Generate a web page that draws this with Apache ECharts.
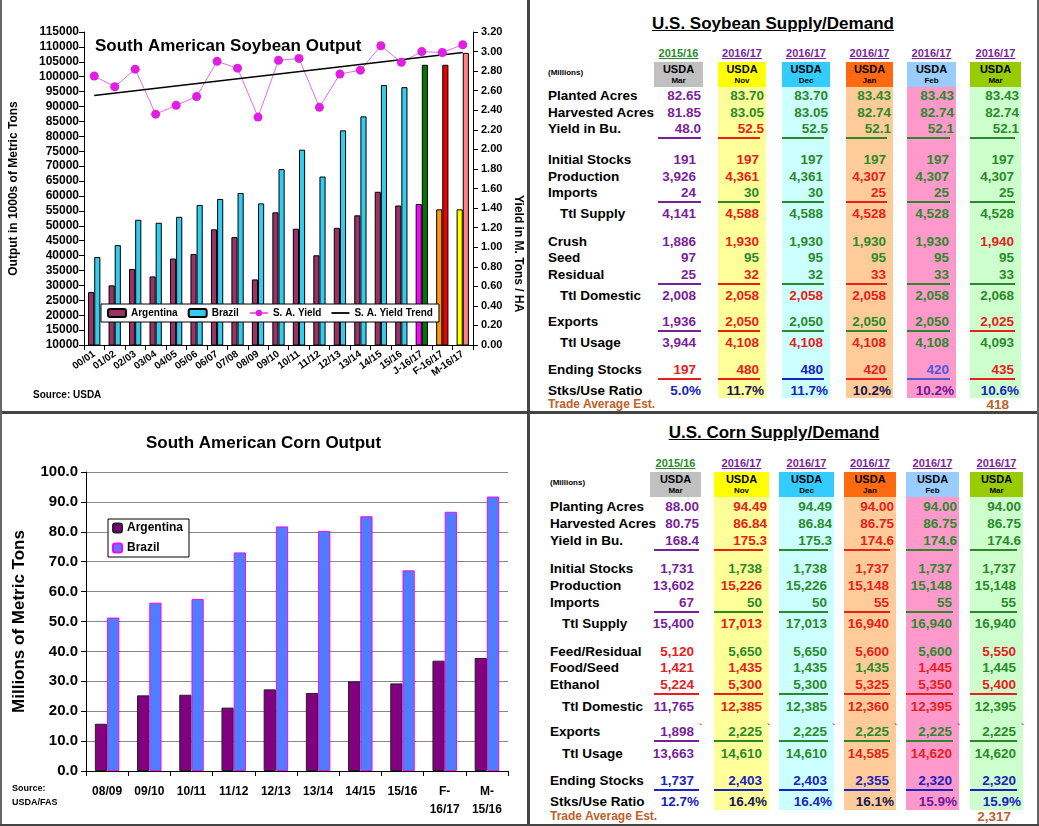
<!DOCTYPE html>
<html><head><meta charset="utf-8">
<script src="https://cdn.jsdelivr.net/npm/echarts@6/dist/echarts.min.js"></script>
<style>
body{margin:0;width:1039px;height:826px;position:relative;background:#fff;font-family:Arial,"Liberation Sans",sans-serif;overflow:hidden}
.abs{position:absolute}
.t{position:absolute;font-weight:bold;font-size:13.5px;white-space:nowrap;line-height:15px}
</style></head><body>
<div id="soy" class="abs" style="left:0;top:0;width:527px;height:411px"></div>
<div id="corn" class="abs" style="left:0;top:414px;width:527px;height:412px"></div>
<div id="tables"></div>
<div class="abs" style="left:527px;top:0;width:3px;height:826px;background:#444"></div>
<div class="abs" style="left:0;top:411px;width:1039px;height:3px;background:#444"></div>
<div class="abs" style="left:0;top:0;width:2px;height:826px;background:#666"></div>
<div class="abs" style="left:1037px;top:0;width:2px;height:826px;background:#666"></div>
<div class="abs" style="left:0;top:824px;width:1039px;height:2px;background:#444"></div>
<script>
// ---------- Soybean chart data ----------
const soyCats = ['00/01','01/02','02/03','03/04','04/05','05/06','06/07','07/08','08/09','09/10','10/11','11/12','12/13','13/14','14/15','15/16','J-16/17','F-16/17','M-16/17'];
const soyArg = [27800,30000,35500,33000,39000,40500,48800,46200,32000,54500,49000,40100,49300,53500,61400,56800,57300,55500,55500];
const soyBra = [39500,43500,52000,51000,53000,57000,59000,61000,57500,69000,75500,66500,82000,86700,97200,96500,104000,104000,108000];
const soyYield = [2.75,2.64,2.82,2.36,2.45,2.54,2.90,2.83,2.33,2.91,2.93,2.43,2.77,2.81,3.06,2.89,3.00,2.99,3.07];
const soyTrend = [2.55,null,null,null,null,null,null,null,null,null,null,null,null,null,null,null,null,null,2.99];
const argSpecial = {16:'#ff00ff',17:'#ff9900',18:'#ffff00'};
const braSpecial = {16:'#007700',17:'#ee0000',18:'#ff8080'};
// ---------- Corn chart data ----------
const cornCats = ['08/09','09/10','10/11','11/12','12/13','13/14','14/15','15/16','F-\n16/17','M-\n15/16'];
const cornArg = [15.8,25.3,25.5,21.2,27.3,26.1,30.0,29.3,36.9,37.8];
const cornBra = [51.3,56.3,57.5,73.1,81.8,80.3,85.2,67.1,86.7,91.8];

const F='Arial, Liberation Sans, sans-serif';
const soy = echarts.init(document.getElementById('soy'));
soy.setOption({
  animation:false,
  title:{text:'South American Soybean Output',left:90,top:33,textStyle:{fontSize:17,fontWeight:'bold',color:'#000',fontFamily:F}},
  graphic:[
    {type:'text',left:33,top:390,style:{text:'Source: USDA',font:'bold 10px Arial',fill:'#000'}},
    {type:'text',left:512,top:195,rotation:-Math.PI/2,style:{text:'Yield in M. Tons / HA',font:'bold 12px Arial',fill:'#000'}}
  ],
  legend:{left:101,top:304,itemGap:10,backgroundColor:'#fff',borderColor:'#000',borderWidth:1,padding:[4,6],itemWidth:18,itemHeight:8,
    textStyle:{fontSize:10,fontWeight:'bold',fontFamily:F,color:'#000'},
    data:[{name:'Argentina'},{name:'Brazil'},{name:'S. A. Yield'},{name:'S. A. Yield Trend',icon:'path://M0,0L10,0L10,1L0,1Z'}]},
  grid:{left:83,right:54,top:32,bottom:66},
  xAxis:{type:'category',data:soyCats,axisLine:{lineStyle:{color:'#000'}},axisTick:{show:true},
    axisLabel:{rotate:35,interval:0,fontSize:10,fontWeight:'bold',color:'#000',fontFamily:F,margin:8}},
  yAxis:[
    {type:'value',min:10000,max:115000,interval:5000,name:'Output in 1000s of Metric Tons',nameLocation:'middle',nameGap:64,
     nameTextStyle:{fontSize:12,fontWeight:'bold',color:'#000',fontFamily:F},
     axisLine:{show:true,lineStyle:{color:'#000'}},axisTick:{show:true},splitLine:{show:false},
     axisLabel:{fontSize:12,fontWeight:'bold',color:'#000',fontFamily:F,margin:5,formatter:v=>String(v)}},
    {type:'value',min:0,max:3.2,interval:0.2,axisLine:{show:true,lineStyle:{color:'#000'}},axisTick:{show:true},splitLine:{show:false},
     axisLabel:{fontSize:11,fontWeight:'bold',color:'#000',fontFamily:F,formatter:v=>v.toFixed(2)}}
  ],
  series:[
    {name:'Argentina',type:'bar',barWidth:'30%',barGap:'0%',itemStyle:{color:'#993366',borderColor:'#000',borderWidth:1},
     data:soyArg.map((v,i)=>argSpecial[i]?{value:v,itemStyle:{color:argSpecial[i]}}:v)},
    {name:'Brazil',type:'bar',barWidth:'30%',itemStyle:{color:'#33ccee',borderColor:'#000',borderWidth:1},
     data:soyBra.map((v,i)=>braSpecial[i]?{value:v,itemStyle:{color:braSpecial[i]}}:v)},
    {name:'S. A. Yield',type:'line',yAxisIndex:1,data:soyYield,symbol:'circle',symbolSize:9,lineStyle:{color:'#ee66ee',width:1},itemStyle:{color:'#e020e0'}},
    {name:'S. A. Yield Trend',type:'line',yAxisIndex:1,data:soyTrend,connectNulls:true,symbol:'none',lineStyle:{color:'#000',width:1.5},itemStyle:{color:'#000'}}
  ]
});

const corn = echarts.init(document.getElementById('corn'));
corn.setOption({
  animation:false,
  title:{text:'South American Corn Output',left:'center',top:16,textStyle:{fontSize:17,fontWeight:'bold',color:'#000',fontFamily:F}},
  graphic:[{type:'text',left:12,top:368,style:{text:'Source:\nUSDA/FAS',font:'bold 9px Arial',fill:'#000',lineHeight:14}}],
  legend:{orient:'vertical',left:108,top:105,backgroundColor:'#fff',borderColor:'#000',borderWidth:1,padding:[3,6,3,4],itemWidth:9,itemHeight:9,itemGap:8,
    textStyle:{fontSize:12,fontWeight:'bold',fontFamily:F,color:'#000'},data:['Argentina','Brazil']},
  grid:{left:86,right:19,top:58,bottom:55},
  xAxis:{type:'category',data:cornCats,axisLine:{lineStyle:{color:'#000'}},axisTick:{show:true},
    axisLabel:{interval:0,fontSize:12,fontWeight:'bold',color:'#000',fontFamily:F,margin:12,lineHeight:18}},
  yAxis:{type:'value',min:0,max:100,interval:10,name:'Millions of Metric Tons',nameLocation:'middle',nameGap:58,
    nameTextStyle:{fontSize:17,fontWeight:'bold',color:'#000',fontFamily:F},
    axisLine:{show:true,lineStyle:{color:'#000'}},axisTick:{show:true},splitLine:{lineStyle:{color:'#888'}},
    axisLabel:{fontSize:15,fontWeight:'bold',color:'#000',fontFamily:F,formatter:v=>v.toFixed(1)}},
  series:[
    {name:'Argentina',type:'bar',barWidth:'29%',barGap:'0%',data:cornArg,itemStyle:{color:'#800080',borderColor:'#222',borderWidth:1}},
    {name:'Brazil',type:'bar',barWidth:'29%',data:cornBra,itemStyle:{color:'#4f7dff',borderColor:'#ff00ff',borderWidth:1}}
  ]
});

// ---------- Table data ----------
const soyLabels = ['Planted Acres','Harvested Acres','Yield in Bu.','Initial Stocks','Production','Imports','  Ttl Supply','Crush','Seed','Residual','  Ttl Domestic','Exports','  Ttl Usage','Ending Stocks','Stks/Use Ratio'];
const soyVals = [
 ['82.65','83.70','83.70','83.43','83.43','83.43'],
 ['81.85','83.05','83.05','82.74','82.74','82.74'],
 ['48.0','52.5','52.5','52.1','52.1','52.1'],
 ['191','197','197','197','197','197'],
 ['3,926','4,361','4,361','4,307','4,307','4,307'],
 ['24','30','30','25','25','25'],
 ['4,141','4,588','4,588','4,528','4,528','4,528'],
 ['1,886','1,930','1,930','1,930','1,930','1,940'],
 ['97','95','95','95','95','95'],
 ['25','32','32','33','33','33'],
 ['2,008','2,058','2,058','2,058','2,058','2,068'],
 ['1,936','2,050','2,050','2,050','2,050','2,025'],
 ['3,944','4,108','4,108','4,108','4,108','4,093'],
 ['197','480','480','420','420','435'],
 ['5.0%','11.7%','11.7%','10.2%','10.2%','10.6%']];
const soyColors = ['pggggg','pggggg','prgggg','prgggg','prgrgg','pggrgg','prgrgg','prgggr','pggggg','prgrgg','prrrgg','prgggr','prrrgg','rrbrlr','bkbkvb'];
const soyY = [96,113,129,160,177,193,214,242,258,275,296,322,343,370,391];
const soyUnder = [2,5,9,11,13];
const cornLabels = ['Planting Acres','Harvested Acres','Yield in Bu.','Initial Stocks','Production','Imports','  Ttl Supply','Feed/Residual','Food/Seed','Ethanol','  Ttl Domestic','Exports','  Ttl Usage','Ending Stocks','Stks/Use Ratio'];
const cornVals = [
 ['88.00','94.49','94.49','94.00','94.00','94.00'],
 ['80.75','86.84','86.84','86.75','86.75','86.75'],
 ['168.4','175.3','175.3','174.6','174.6','174.6'],
 ['1,731','1,738','1,738','1,737','1,737','1,737'],
 ['13,602','15,226','15,226','15,148','15,148','15,148'],
 ['67','50','50','55','55','55'],
 ['15,400','17,013','17,013','16,940','16,940','16,940'],
 ['5,120','5,650','5,650','5,600','5,600','5,550'],
 ['1,421','1,435','1,435','1,435','1,445','1,445'],
 ['5,224','5,300','5,300','5,325','5,350','5,400'],
 ['11,765','12,385','12,385','12,360','12,395','12,395'],
 ['1,898','2,225','2,225','2,225','2,225','2,225'],
 ['13,663','14,610','14,610','14,585','14,620','14,620'],
 ['1,737','2,403','2,403','2,355','2,320','2,320'],
 ['12.7%','16.4%','16.4%','16.1%','15.9%','15.9%']];
const cornColors = ['prgrgg','prgrgg','prgrgg','pggrgg','prgrgg','pggrgg','prgrgg','rggrgr','rrggrg','rrgrrr','prgrrg','pggggg','pggrrg','bbbbbb','bkbkvb'];
const cornY = [507,524,541,569,586,603,624,652,668,685,707,732,754,781,802];
const cornUnder = [2,5,9,11,13];
const yearHdr = ['2015/16','2016/17','2016/17','2016/17','2016/17','2016/17'];
const monHdr = ['Mar','Nov','Dec','Jan','Feb','Mar'];
const soyTradeAvg = '418', cornTradeAvg = '2,317';

const CMAP={p:'#7a1f9a',g:'#2a8a2a',r:'#e8201a',b:'#1a22c0',k:'#161650',v:'#6a1a9a',l:'#4a5ad8'};
const HDR=['#c0c0c0','#ffff00','#33ccff','#ff6a10','#99ccff','#99cc00'];
const BODY=[null,'#ffff99','#ccffff','#ffcc99','#ff99cc','#ccffcc'];
const T=document.getElementById('tables');
function el(css,txt){const d=document.createElement('div');d.className='t';d.style.cssText=css;if(txt!==undefined)d.textContent=txt;T.appendChild(d);return d;}
function table(o){
  el(`left:${o.tx-150}px;width:300px;text-align:center;top:${o.ty}px;font-size:17px;line-height:20px;text-decoration:underline`,o.title);
  o.cols.forEach((c,j)=>{
    const w=c[1]-c[0];
    if(BODY[j]) el(`left:${c[0]}px;top:${o.hy+25}px;width:${w}px;height:${o.bodyEnd-o.hy-25}px;background:${BODY[j]}`);
    el(`left:${c[0]}px;top:${o.hy}px;width:${w}px;height:25px;background:${HDR[j]}`);
    el(`left:${c[0]-5}px;width:${w+10}px;text-align:center;top:${o.hy+1}px;font-size:11px;line-height:13px`,'USDA');
    el(`left:${c[0]}px;width:${w}px;text-align:center;top:${o.hy+14}px;font-size:8px;line-height:10px`,monHdr[j]);
    el(`left:${c[0]-8}px;width:${w+16}px;text-align:center;top:${o.hy-16}px;font-size:11px;text-decoration:underline;color:${j?'#7a1f9a':'#2a8a2a'}`,yearHdr[j]);
  });
  el(`left:${o.lx}px;top:${o.hy+3}px;font-size:8px`,'(Millions)');
  o.labels.forEach((lab,i)=>{
    const y=o.ys[i]-8;
    const ind=lab.startsWith('  ');
    el(`left:${o.lx+(ind?12:0)}px;top:${y}px`,lab.trim());
    o.vals[i].forEach((v,j)=>{
      const c=o.cols[j];const col=CMAP[o.colors[i][j]];
      const rp=(i<3||i==14)?2:7;
      el(`left:${c[0]-20}px;width:${c[1]-c[0]+20-rp}px;text-align:right;top:${y}px;color:${col}`,v);
      if(o.under.includes(i)) el(`left:${c[0]+(j?0:4)}px;width:${c[1]-c[0]-6}px;top:${y+16}px;height:2px;background:${col}`);
      if(o.tick&&i==11) el(`left:${c[1]-2}px;top:${y-4}px;color:#e8201a;font-size:10px`,'`');
    });
  });
  el(`left:${o.lx}px;top:${o.tradeY-8}px;color:#c0602a;font-size:12px`,'Trade Average Est.');
  const c=o.cols[5];
  el(`left:${c[0]}px;width:${c[1]-c[0]-12}px;text-align:right;top:${o.tradeY-8}px;color:#c0602a`,o.trade);
}
table({title:'U.S. Soybean Supply/Demand',tx:773,ty:14,hy:62,bodyEnd:398,lx:548,
  cols:[[654,703],[718,766],[782,830],[846,893],[907,956],[970,1021]],
  labels:soyLabels,vals:soyVals,colors:soyColors,ys:soyY,under:soyUnder,tradeY:405,trade:soyTradeAvg});
table({title:'U.S. Corn Supply/Demand',tx:774,ty:423,hy:472,bodyEnd:810,lx:550,
  cols:[[650,701],[714,769],[779,834],[844,896],[906,959],[970,1023]],
  labels:cornLabels,vals:cornVals,colors:cornColors,ys:cornY,under:cornUnder,tradeY:817,trade:cornTradeAvg,tick:true});
</script>
</body></html>
